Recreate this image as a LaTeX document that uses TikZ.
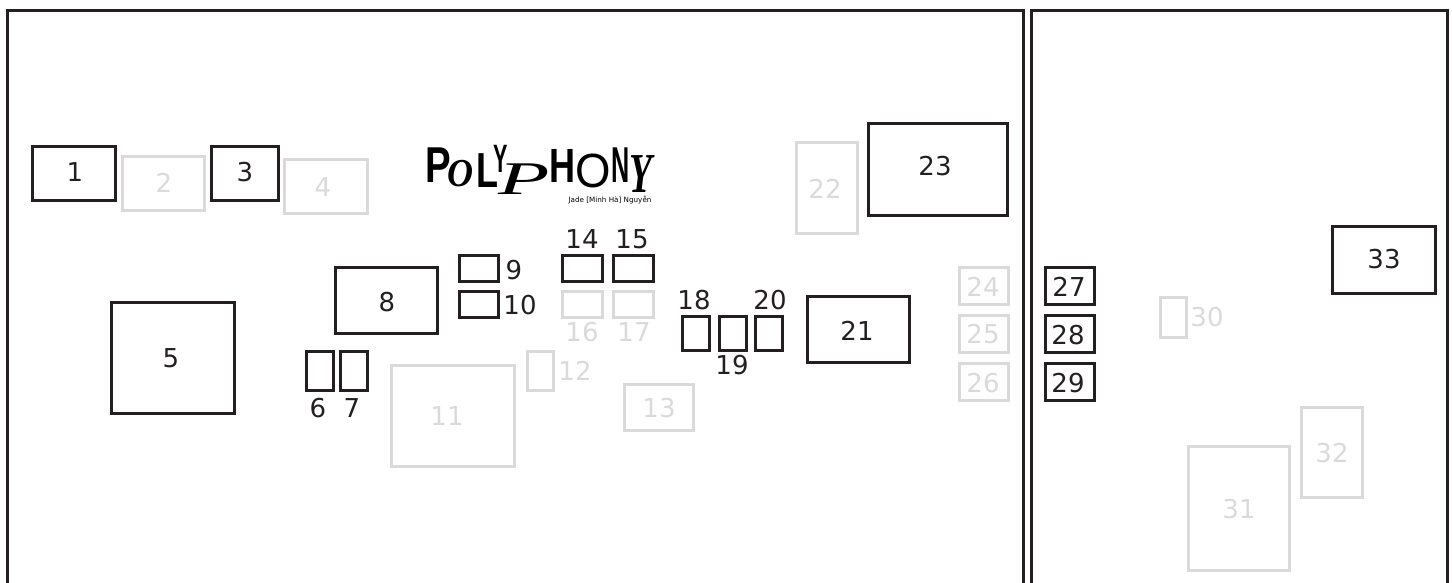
\documentclass[tikz,border=0pt]{standalone}
\usepackage{fontspec}
\setmainfont{DejaVu Sans}
\newfontfamily\lgsans{Liberation Sans}
\newfontfamily\lgserif{Liberation Serif}
\definecolor{inkc}{HTML}{231F20}
\definecolor{fadec}{HTML}{DADADA}
\tikzset{
  x=0.75pt,y=-0.75pt,
  frameline/.style={draw=inkc,line width=2.2pt},
  boxbase/.style={rectangle,line width=2.2pt,inner sep=0pt,outer sep=0pt},
  live/.style={boxbase,draw=inkc},
  dim/.style={boxbase,draw=fadec},
  livelabel/.style={inner sep=0pt,text=inkc,font=\fontsize{19.5}{20}\selectfont},
  dimlabel/.style={inner sep=0pt,text=fadec,font=\fontsize{19.5}{20}\selectfont},
  logoglyph/.style={inner sep=0pt,text=black,transform shape},
}
% name, style, x1, y1, x2, y2 (pixel edges of the reference)
\newcommand{\BX}[6]{\node[#2,minimum width={(#5-#3)*0.75pt},minimum height={(#6-#4)*0.75pt}] (#1) at ({(#3+#5)/2+0.5},{(#4+#6)/2+0.5}) {};}
% name, x, y, xscale, yscale, font, letter
\newcommand{\LG}[7]{\begin{scope}[shift={(#2,#3)},xscale=#4,yscale=#5]\node[logoglyph] (#1) at (0,0) {\fontsize{18}{18}\selectfont #6{}#7};\end{scope}}
\begin{document}
\begin{tikzpicture}
\useasboundingbox (0,0) rectangle (1452,582);
\coordinate (la) at (7.5,584); \coordinate (lb) at (7.5,10.5); \coordinate (lc) at (1023.5,10.5); \coordinate (ld) at (1023.5,584);
\coordinate (ra) at (1031.5,584); \coordinate (rb) at (1031.5,10.5); \coordinate (rc) at (1447.5,10.5); \coordinate (rd) at (1447.5,584);
\draw[frameline] (la) -- (lb) -- (lc) -- (ld);
\draw[frameline] (ra) -- (rb) -- (rc) -- (rd);
\BX{b1}{live}{32}{146}{115}{200}
\BX{b2}{dim}{122}{156}{204}{210}
\BX{b3}{live}{211}{146}{278}{200}
\BX{b4}{dim}{284}{159}{367}{213}
\BX{b5}{live}{111}{302}{234}{413}
\BX{b6}{live}{306}{351}{333}{390}
\BX{b7}{live}{340}{351}{367}{390}
\BX{b8}{live}{335}{267}{437}{333}
\BX{b9}{live}{459}{255}{498}{281}
\BX{b10}{live}{459}{291}{498}{317}
\BX{b11}{dim}{391}{365}{514}{466}
\BX{b12}{dim}{527}{351}{553}{390}
\BX{b13}{dim}{624}{384}{693}{430}
\BX{b14}{live}{562}{255}{602}{281}
\BX{b15}{live}{613}{255}{653}{281}
\BX{b16}{dim}{562}{291}{602}{317}
\BX{b17}{dim}{613}{291}{653}{317}
\BX{b18}{live}{682}{316}{709}{350}
\BX{b19}{live}{719}{316}{746}{350}
\BX{b20}{live}{755}{316}{782}{350}
\BX{b21}{live}{807}{296}{909}{362}
\BX{b22}{dim}{796}{142}{857}{233}
\BX{b23}{live}{868}{123}{1007}{215}
\BX{b24}{dim}{959}{267}{1008}{304}
\BX{b25}{dim}{959}{315}{1008}{352}
\BX{b26}{dim}{959}{363}{1008}{400}
\BX{b27}{live}{1045}{267}{1094}{304}
\BX{b28}{live}{1045}{315}{1094}{352}
\BX{b29}{live}{1045}{363}{1094}{400}
\BX{b30}{dim}{1160}{297}{1186}{337}
\BX{b31}{dim}{1188}{446}{1289}{570}
\BX{b32}{dim}{1301}{407}{1362}{497}
\BX{b33}{live}{1332}{226}{1435}{293}
\node[livelabel] (t1) at (75,172) {1};
\node[dimlabel] (t2) at (164,183) {2};
\node[livelabel] (t3) at (245,172) {3};
\node[dimlabel] (t4) at (323,187) {4};
\node[livelabel] (t5) at (171,358) {5};
\node[livelabel] (t6) at (318,408) {6};
\node[livelabel] (t7) at (352,408) {7};
\node[livelabel] (t8) at (387,302) {8};
\node[livelabel] (t9) at (514,270) {9};
\node[livelabel] (t10) at (520,305) {10};
\node[dimlabel] (t11) at (447,416) {11};
\node[dimlabel] (t12) at (575,371) {12};
\node[dimlabel] (t13) at (659,408) {13};
\node[livelabel] (t14) at (582,239) {14};
\node[livelabel] (t15) at (632,239) {15};
\node[dimlabel] (t16) at (582,332) {16};
\node[dimlabel] (t17) at (634,332) {17};
\node[livelabel] (t18) at (694,300) {18};
\node[livelabel] (t19) at (732,365) {19};
\node[livelabel] (t20) at (770,300) {20};
\node[livelabel] (t21) at (857,331) {21};
\node[dimlabel] (t22) at (825,189) {22};
\node[livelabel] (t23) at (935,166) {23};
\node[dimlabel] (t24) at (983,287) {24};
\node[dimlabel] (t25) at (983,334) {25};
\node[dimlabel] (t26) at (983,383) {26};
\node[livelabel] (t27) at (1069,287) {27};
\node[livelabel] (t28) at (1068,335) {28};
\node[livelabel] (t29) at (1068,383) {29};
\node[dimlabel] (t30) at (1207,317) {30};
\node[dimlabel] (t31) at (1239,509) {31};
\node[dimlabel] (t32) at (1332,453) {32};
\node[livelabel] (t33) at (1384,259) {33};
\LG{l1}{438}{165}{1.6}{2.1}{\lgsans\bfseries}{P}
\LG{l2}{460}{174}{1.5}{1.65}{\lgserif\bfseries\itshape}{O}
\LG{l3}{487}{171}{1.5}{2.05}{\lgsans\bfseries}{L}
\LG{l4}{501}{159}{0.9}{1.65}{\lgsans\bfseries}{Y}
\LG{l5}{524}{179}{3.5}{1.95}{\lgserif\itshape}{P}
\LG{l6}{562}{166}{1.5}{2.0}{\lgsans\bfseries}{H}
\LG{l7}{593}{171}{1.9}{2.0}{\lgsans}{O}
\LG{l8}{621}{165}{1.05}{2.1}{\lgsans\bfseries}{N}
\LG{l9}{641}{174}{1.55}{2.35}{\lgserif\bfseries\itshape}{Y}
\node[inner sep=0pt,text=black,font=\fontsize{5.4}{6}\selectfont] (sub) at (610,200) {Jade [Minh Hà] Nguyễn};
\end{tikzpicture}
\end{document}
